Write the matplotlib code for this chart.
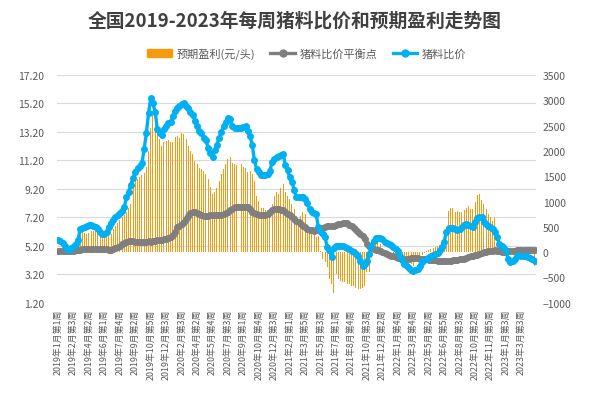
import matplotlib
matplotlib.use("Agg")
import matplotlib.pyplot as plt
import numpy as np
from matplotlib.lines import Line2D
from matplotlib.patches import Patch

plt.rcParams["font.family"] = ["Noto Sans CJK SC", "DejaVu Sans"]

# 猪料比价 (左轴)
ratio = [
    5.6, 5.55, 5.4, 5.2, 4.95, 4.9, 5.05, 5.15, 5.35, 5.6,
    6.35, 6.45, 6.55, 6.6, 6.65, 6.65, 6.6, 6.55, 6.4, 6.2,
    6.05, 6.0, 6.2, 6.5, 6.8, 7.0, 7.2, 7.35, 7.5, 7.65,
    7.9, 8.6, 9.0, 9.5, 9.95, 10.4, 10.7, 10.8, 11.0, 12.0,
    13.1, 14.5, 15.6, 15.2, 14.6, 13.4, 13.1, 12.95, 13.4, 13.6,
    13.8, 13.9, 14.3, 14.7, 14.9, 15.0, 15.15, 15.2, 15.0, 14.85,
    14.6, 14.4, 14.0, 13.6, 13.3, 13.1, 12.8, 12.6, 12.1, 11.7,
    11.45, 11.9, 12.3, 12.8, 13.2, 13.6, 13.9, 14.2, 14.1, 13.65,
    13.45, 13.45, 13.5, 13.5, 13.55, 13.6, 13.3, 12.9, 12.3, 11.2,
    10.6, 10.35, 10.2, 10.2, 10.2, 10.25, 10.45, 11.1, 11.3, 11.45,
    11.5, 11.6, 11.65, 10.9, 10.5, 10.0, 9.7, 9.15, 8.6, 8.6,
    8.6, 8.6, 8.5, 8.2, 7.8, 7.6, 7.5, 7.4, 6.5, 6.2,
    6.0, 5.8, 5.1, 4.9, 4.4, 5.05, 5.15, 5.2, 5.2, 5.18,
    5.1, 5.05, 4.95, 4.85, 4.73, 4.6, 4.45, 4.15, 3.8, 3.9,
    4.15, 4.6, 5.2, 5.55, 5.75, 5.78, 5.76, 5.7, 5.5, 5.42,
    5.32, 5.25, 5.13, 5.0, 4.8, 4.5, 4.2, 3.95, 3.75, 3.62,
    3.52, 3.42, 3.48, 3.6, 3.8, 4.05, 4.2, 4.3, 4.38, 4.45,
    4.52, 4.6, 4.68, 4.9, 5.1, 5.48, 6.2, 6.45, 6.45, 6.42,
    6.38, 6.32, 6.4, 6.55, 6.66, 6.7, 6.68, 6.6, 6.55, 6.85,
    7.15, 7.25, 7.2, 6.85, 6.7, 6.62, 6.5, 6.35, 6.2, 5.85,
    5.3, 5.2, 5.05, 4.8, 4.3, 4.05, 4.1, 4.25, 4.5, 4.55,
    4.5, 4.47, 4.45, 4.4, 4.35, 4.25, 4.15,
]

# 猪料比价平衡点 (左轴)
balance = [
    4.85, 4.85, 4.83, 4.82, 4.8, 4.8, 4.82, 4.85, 4.88, 4.9,
    4.92, 4.95, 4.95, 4.97, 4.97, 4.97, 4.97, 4.97, 4.97, 4.97,
    4.97, 4.95, 4.95, 4.93, 4.93, 4.98, 5.05, 5.12, 5.2, 5.3,
    5.42, 5.5, 5.55, 5.55, 5.52, 5.5, 5.5, 5.48, 5.48, 5.5,
    5.5, 5.52, 5.5, 5.55, 5.55, 5.58, 5.6, 5.62, 5.65, 5.7,
    5.75, 5.85, 5.95, 6.2, 6.5, 6.6, 6.75, 6.85, 7.05, 7.3,
    7.5, 7.6, 7.55, 7.48, 7.42, 7.38, 7.3, 7.28, 7.3, 7.35,
    7.36, 7.36, 7.36, 7.36, 7.38, 7.4, 7.5, 7.6, 7.7, 7.8,
    7.9, 7.95, 7.95, 7.95, 7.93, 7.92, 7.9, 7.8, 7.6, 7.48,
    7.4, 7.36, 7.35, 7.35, 7.38, 7.45, 7.6, 7.7, 7.75, 7.76,
    7.76, 7.72, 7.68, 7.6, 7.45, 7.35, 7.24, 7.08, 6.95, 6.84,
    6.73, 6.6, 6.5, 6.38, 6.33, 6.28, 6.26, 6.3, 6.38, 6.42,
    6.48, 6.52, 6.56, 6.58, 6.6, 6.61, 6.65, 6.7, 6.73, 6.77,
    6.8, 6.78, 6.65, 6.56, 6.45, 6.33, 6.2, 6.05, 5.9, 5.7,
    5.35, 5.2, 5.05, 4.96, 4.92, 4.88, 4.8, 4.74, 4.68, 4.62,
    4.55, 4.5, 4.45, 4.4, 4.35, 4.32, 4.3, 4.3, 4.3, 4.3,
    4.32, 4.35, 4.35, 4.33, 4.3, 4.28, 4.26, 4.25, 4.23, 4.21,
    4.19, 4.17, 4.15, 4.13, 4.12, 4.12, 4.12, 4.13, 4.15, 4.17,
    4.2, 4.22, 4.25, 4.28, 4.3, 4.35, 4.4, 4.45, 4.48, 4.52,
    4.57, 4.62, 4.68, 4.73, 4.77, 4.8, 4.83, 4.86, 4.87, 4.85,
    4.82, 4.78, 4.75, 4.76, 4.8, 4.83, 4.83, 4.85, 4.88, 4.9,
    4.92, 4.92, 4.93, 4.93, 4.92, 4.9, 4.9,
]

# 预期盈利(元/头) (右轴)
profit = [
    60, 70, 80, 50, 30, 20, 40, 60, 80, 120,
    420, 400, 380, 360, 380, 410, 420, 410, 380, 330,
    290, 275, 290, 330, 360, 450, 520, 580, 640, 690,
    740, 800, 880, 950, 1380, 1410, 1440, 1490, 1520, 1560,
    1680, 2000, 2460, 2700, 2660, 2530, 2230, 2100, 2170, 2200,
    2210, 2170, 2170, 2270, 2300, 2260, 2350, 2340, 2230, 2100,
    2000, 1940, 1800, 1740, 1670, 1640, 1610, 1540, 1440, 1280,
    1150, 1180, 1265, 1410, 1540, 1640, 1740, 1840, 1885, 1770,
    1740, 1720, 1740, 1740, 1690, 1670, 1575, 1600, 1540, 1410,
    1110, 1015, 880, 870, 830, 830, 820, 950, 1110, 1180,
    1150, 1265, 1340, 1180, 1110, 1050, 950, 850, 720, 650,
    720, 800, 750, 455, 390, 390, 455, 290, 320, 25,
    -140, -205, -300, -530, -630, -800, -435, -530, -565, -600,
    -600, -630, -630, -665, -665, -700, -720, -720, -700, -665,
    -400, -400, 20, 120, 180, 200, 160, 80, 40, 20,
    10, 0, -20, -30, -40, -70, -90, -105, -140, -170,
    -240, -280, -205, -140, -85, -60, -20, 25, 45, 60,
    90, 110, 125, 140, 190, 255, 190, 815, 880, 880,
    800, 815, 785, 800, 835, 880, 915, 850, 850, 995,
    1125, 1150, 1035, 950, 850, 750, 685, 620, 665, 125,
    90, 40, 25, 20, -30, -40, -30, -20, -20, -20,
    -20, -20, -25, -30, -30, -40, -270,
]

# 每7周一个标签
week_labels = [
    "2019年1月第1周", "2019年2月第3周", "2019年4月第2周", "2019年6月第1周",
    "2019年7月第4周", "2019年9月第2周", "2019年10月第5周", "2019年12月第3周",
    "2020年2月第3周", "2020年4月第2周", "2020年5月第4周", "2020年7月第3周",
    "2020年9月第1周", "2020年10月第4周", "2020年12月第3周", "2021年2月第1周",
    "2021年3月第5周", "2021年5月第3周", "2021年7月第1周", "2021年8月第4周",
    "2021年10月第3周", "2021年12月第2周", "2022年1月第4周", "2022年3月第4周",
    "2022年5月第2周", "2022年6月第5周", "2022年8月第3周", "2022年10月第2周",
    "2022年11月第5周", "2023年1月第3周", "2023年3月第3周",
]
label_step = 7

c_bar = "#F39A0E"
c_gray = "#7F7F7F"
c_blue = "#00B0F0"
c_text = "#595959"

x = np.arange(len(ratio))

fig = plt.figure(figsize=(5.9, 4.14), dpi=100)
ax = fig.add_axes([0.0966, 0.2664, 0.8114, 0.55])
ax2 = ax.twinx()

ax.set_ylim(1.2, 17.2)
ax2.set_ylim(-1000, 3500)
ax.set_xlim(-0.5, len(ratio) - 0.5)

# 网格线 (画在柱子下面)
left_ticks = np.arange(1.2, 17.3, 2.0)
for v in left_ticks:
    ax2.plot([0, 1], [v, v], transform=ax.get_yaxis_transform(),
             color="#D9D9D9", lw=0.8, zorder=0)

ax2.bar(x, profit, width=0.45, color=c_bar, zorder=2)

ax.set_zorder(ax2.get_zorder() + 1)
ax.patch.set_visible(False)

ax.plot(x, balance, color=c_gray, lw=2.4, marker="o", ms=4.0, zorder=3)
ax.plot(x, ratio, color=c_blue, lw=2.4, marker="o", ms=4.0, zorder=4)

ax.set_yticks(left_ticks)
ax.set_yticklabels([f"{v:.2f}" for v in left_ticks])
ax2.set_yticks(np.arange(-1000, 3501, 500))

ax.set_xticks(x[::label_step][:len(week_labels)])
ax.set_xticklabels(week_labels, rotation=90)

for a in (ax, ax2):
    for s in a.spines.values():
        s.set_visible(False)
    a.tick_params(length=0, colors=c_text, labelsize=7.5)
ax.tick_params(axis="y", pad=9)
ax2.tick_params(axis="y", pad=5)
ax.tick_params(axis="x", pad=4, labelsize=6.4)

fig.text(0.5, 0.95, "全国2019-2023年每周猪料比价和预期盈利走势图",
         ha="center", va="center", fontsize=13.5, fontweight="bold",
         color="#404040")

handles = [
    Patch(color=c_bar),
    Line2D([], [], color=c_gray, lw=2.4, marker="o", ms=5),
    Line2D([], [], color=c_blue, lw=2.4, marker="o", ms=5),
]
names = ["预期盈利(元/头)", "猪料比价平衡点", "猪料比价"]
leg = fig.legend(handles, names, loc="center", bbox_to_anchor=(0.52, 0.868),
                 ncol=3, frameon=False, fontsize=8, handlelength=2.2,
                 handleheight=0.8, columnspacing=1.4, handletextpad=0.4)
for t in leg.get_texts():
    t.set_color(c_text)

fig.savefig("out.png", dpi=100)
